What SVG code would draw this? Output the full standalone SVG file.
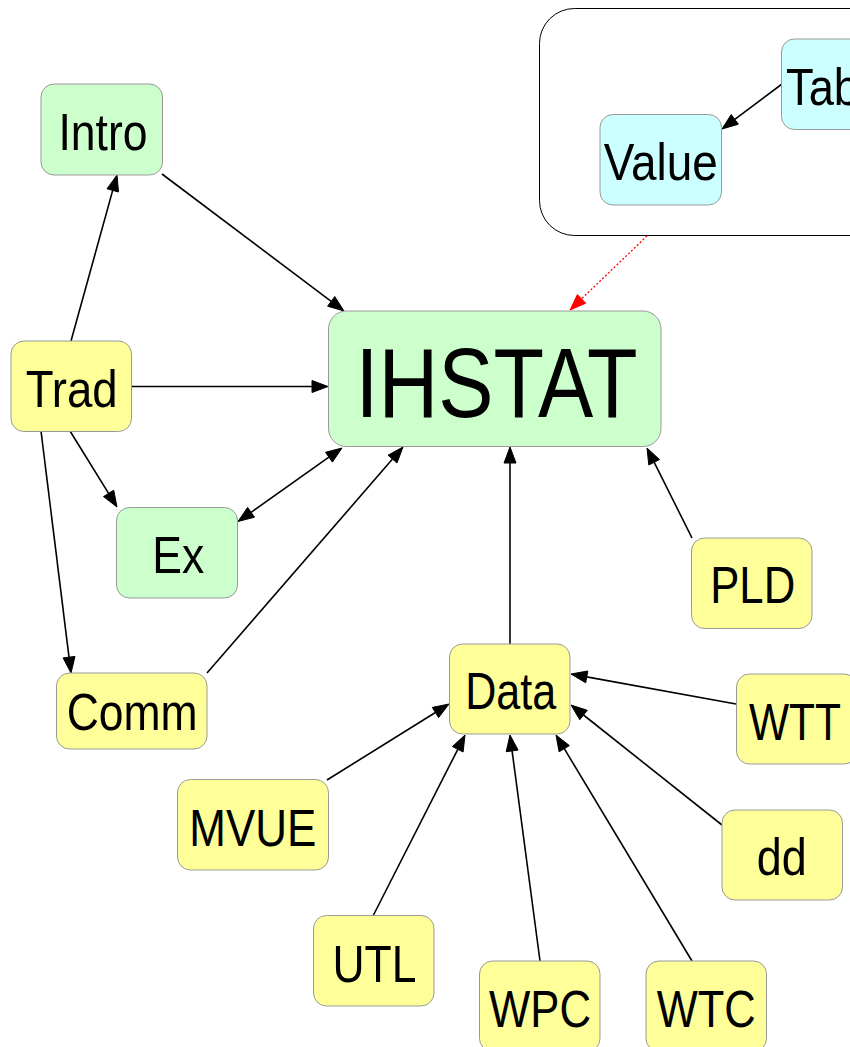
<svg xmlns="http://www.w3.org/2000/svg" width="850" height="1047" viewBox="0 0 850 1047">
<style>
.n{stroke:#999999;stroke-width:1}
.g{fill:#ccffcc}.y{fill:#ffff99}.c{fill:#ccffff}
.t{font-family:"Liberation Sans Narrow","Arial Narrow","Liberation Sans",Arial,sans-serif;font-size:52px;fill:#000;text-anchor:middle}
.e{stroke:#000;stroke-width:1.6;fill:none}
.h{fill:#000;stroke:#000;stroke-width:1}
.r{fill:#ff0000;stroke:#ff0000;stroke-width:1}
</style>
<rect width="850" height="1047" fill="#fff"/>
<g id="cluster"><rect x="539.5" y="8.5" width="360" height="227" rx="35" fill="none" stroke="#000" stroke-width="1"/></g>
<g id="edges">
<line class="e" x1="782" y1="84" x2="734.8" y2="119.4"/><polygon class="h" points="722,129 731.2,114.6 738.4,124.2"/>
<line x1="647" y1="236" x2="581.5" y2="298.9" stroke="#ff0000" stroke-width="1.3" stroke-dasharray="2,2"/><polygon class="r" points="570,310 577.4,294.6 585.7,303.2"/>
<line class="e" x1="162" y1="174" x2="331.2" y2="301.4"/><polygon class="h" points="344,311 327.6,306.2 334.8,296.6"/>
<line class="e" x1="71" y1="341" x2="112.7" y2="190.4"/><polygon class="h" points="117,175 118.5,192 107,188.8"/>
<line class="e" x1="132" y1="386.5" x2="312" y2="386.5"/><polygon class="h" points="328,386.5 312,380.5 312,392.5"/>
<line class="e" x1="70" y1="431" x2="108.6" y2="493.4"/><polygon class="h" points="117,507 103.5,496.6 113.7,490.2"/>
<line class="e" x1="41" y1="431" x2="69" y2="657.1"/><polygon class="h" points="71,673 63.1,657.9 75,656.4"/>
<line class="e" x1="251.1" y1="512.3" x2="328.9" y2="457.2"/><polygon class="h" points="342,448 332.4,462.1 325.5,452.3"/><polygon class="h" points="238,521.5 254.5,517.2 247.6,507.4"/>
<line class="e" x1="207" y1="673" x2="392.5" y2="459.1"/><polygon class="h" points="403,447 397,463 388,455.2"/>
<line class="e" x1="510" y1="644" x2="510" y2="463"/><polygon class="h" points="510,447 504,463 516,463"/>
<line class="e" x1="692" y1="538" x2="654.2" y2="462.3"/><polygon class="h" points="647,448 659.5,459.6 648.8,465"/>
<line class="e" x1="736" y1="704" x2="586.7" y2="676.9"/><polygon class="h" points="571,674 587.8,671 585.7,682.8"/>
<line class="e" x1="722" y1="825" x2="583.5" y2="715"/><polygon class="h" points="571,705 587.3,710.3 579.8,719.7"/>
<line class="e" x1="327" y1="780" x2="435.4" y2="712.5"/><polygon class="h" points="449,704 438.6,717.6 432.3,707.4"/>
<line class="e" x1="373" y1="916" x2="457.8" y2="749.3"/><polygon class="h" points="465,735 463.1,752 452.4,746.5"/>
<line class="e" x1="540" y1="961" x2="512.1" y2="750.9"/><polygon class="h" points="510,735 518.1,750.1 506.2,751.7"/>
<line class="e" x1="692" y1="961" x2="564.3" y2="748.7"/><polygon class="h" points="556,735 569.4,745.6 559.1,751.8"/>
</g>
<g id="Tab"><rect class="n c" x="781.5" y="39" width="120" height="90.5" rx="13"/><text class="t" x="786" y="105.3" style="text-anchor:start" textLength="73" lengthAdjust="spacingAndGlyphs">Tab</text></g>
<g id="Value"><rect class="n c" x="600" y="114.5" width="121.5" height="90.5" rx="13"/><text class="t" x="660.7" y="180" textLength="114" lengthAdjust="spacingAndGlyphs">Value</text></g>
<g id="Intro"><rect class="n g" x="41" y="84" width="121.5" height="91" rx="13"/><text class="t" x="103" y="150" textLength="89" lengthAdjust="spacingAndGlyphs">Intro</text></g>
<g id="IHSTAT"><rect class="n g" x="328.5" y="311" width="332.5" height="135.5" rx="18"/><text class="t" x="496.5" y="416.7" style="font-size:98px" textLength="282" lengthAdjust="spacingAndGlyphs">IHSTAT</text></g>
<g id="Trad"><rect class="n y" x="11" y="341" width="120.5" height="90.5" rx="13"/><text class="t" x="71.7" y="407" textLength="92" lengthAdjust="spacingAndGlyphs">Trad</text></g>
<g id="Ex"><rect class="n g" x="116.5" y="507.5" width="121" height="90.5" rx="13"/><text class="t" x="178.3" y="573" textLength="52" lengthAdjust="spacingAndGlyphs">Ex</text></g>
<g id="Comm"><rect class="n y" x="56.5" y="673" width="150.5" height="76" rx="13"/><text class="t" x="132.2" y="730" textLength="131" lengthAdjust="spacingAndGlyphs">Comm</text></g>
<g id="PLD"><rect class="n y" x="691.5" y="538" width="120.5" height="90.5" rx="13"/><text class="t" x="752.7" y="603" textLength="85" lengthAdjust="spacingAndGlyphs">PLD</text></g>
<g id="Data"><rect class="n y" x="449.5" y="644" width="120.5" height="90" rx="13"/><text class="t" x="510.7" y="709" textLength="91" lengthAdjust="spacingAndGlyphs">Data</text></g>
<g id="WTT"><rect class="n y" x="736.5" y="674" width="120.5" height="90" rx="13"/><text class="t" x="795" y="740" textLength="92" lengthAdjust="spacingAndGlyphs">WTT</text></g>
<g id="dd"><rect class="n y" x="722" y="810" width="120.5" height="90" rx="13"/><text class="t" x="781.7" y="875" textLength="50" lengthAdjust="spacingAndGlyphs">dd</text></g>
<g id="MVUE"><rect class="n y" x="177.5" y="779.5" width="151" height="90.5" rx="13"/><text class="t" x="252.8" y="846" textLength="127" lengthAdjust="spacingAndGlyphs">MVUE</text></g>
<g id="UTL"><rect class="n y" x="313.5" y="915.5" width="120.5" height="90.5" rx="13"/><text class="t" x="374.5" y="982" textLength="84" lengthAdjust="spacingAndGlyphs">UTL</text></g>
<g id="WPC"><rect class="n y" x="479.5" y="961" width="120.5" height="90.5" rx="13"/><text class="t" x="540" y="1026.7" textLength="102" lengthAdjust="spacingAndGlyphs">WPC</text></g>
<g id="WTC"><rect class="n y" x="646" y="961" width="120.5" height="90.5" rx="13"/><text class="t" x="706.2" y="1026.7" textLength="99" lengthAdjust="spacingAndGlyphs">WTC</text></g>
</svg>
